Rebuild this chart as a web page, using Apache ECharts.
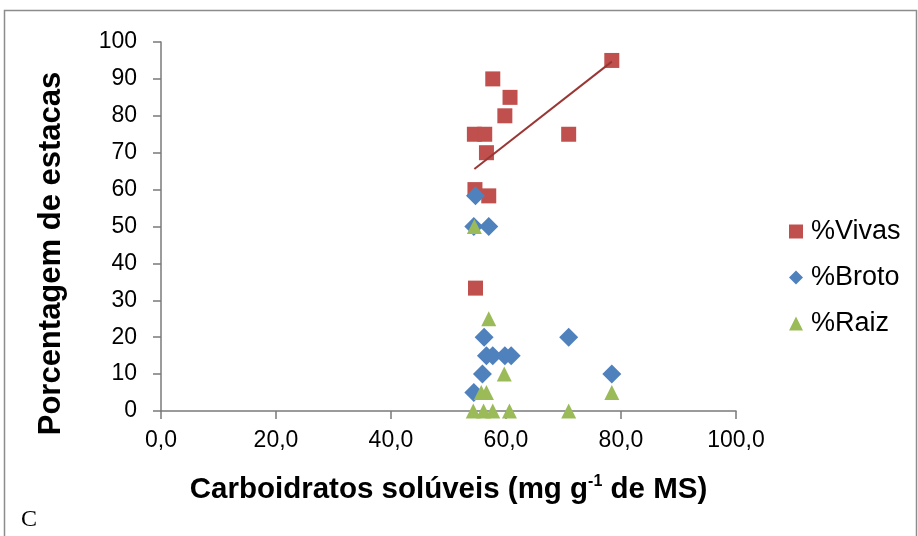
<!DOCTYPE html>
<html>
<head>
<meta charset="utf-8">
<script src="https://cdn.jsdelivr.net/npm/echarts@6/dist/echarts.min.js"></script>
<style>
html,body{margin:0;padding:0;background:#fff;}
#chart{width:918px;height:536px;}
</style>
</head>
<body>
<div id="chart"></div>
<script>
// Data
var vivasX = [78.4, 57.7, 60.7, 59.8, 54.5, 56.3, 70.9, 56.6, 54.6, 57.0, 54.7];
var vivasY = [95, 90, 85, 80, 75, 75, 75, 70, 60, 58.3, 33.3];
var brotoX = [54.7, 54.4, 57.0, 56.2, 70.9, 56.6, 57.7, 59.8, 60.9, 55.9, 78.4, 54.4];
var brotoY = [58.3, 50, 50, 20, 20, 15, 15, 15, 15, 10, 10, 5];
var raizX = [54.5, 57.0, 59.7, 55.7, 56.6, 78.4, 54.3, 56.1, 57.7, 60.6, 70.9];
var raizY = [50, 25, 10, 5, 5, 5, 0, 0, 0, 0, 0];
var seriesNames = ['%Vivas', '%Broto', '%Raiz'];
var xTicks = [0, 20, 40, 60, 80, 100];
var yTicks = [0, 10, 20, 30, 40, 50, 60, 70, 80, 90, 100];

function pairs(xs, ys) { return xs.map(function (x, i) { return [x, ys[i]]; }); }

// linear trend line (least squares) of %Vivas
function trend(xs, ys) {
  var n = xs.length, sx = 0, sy = 0;
  for (var i = 0; i < n; i++) { sx += xs[i]; sy += ys[i]; }
  var mx = sx / n, my = sy / n, num = 0, den = 0;
  for (i = 0; i < n; i++) { num += (xs[i] - mx) * (ys[i] - my); den += (xs[i] - mx) * (xs[i] - mx); }
  var b = num / den, a = my - b * mx;
  var x0 = Math.min.apply(null, xs), x1 = Math.max.apply(null, xs);
  return [[x0, a + b * x0], [x1, a + b * x1]];
}

var FONT = '"Liberation Sans", Arial, sans-serif';
var axisCol = '#7a7a7a';
var chart = echarts.init(document.getElementById('chart'), null, {renderer: 'canvas'});
chart.setOption({
  animation: false,
  backgroundColor: '#fff',
  textStyle: {fontFamily: FONT},
  grid: {left: 161, right: 182, top: 42, bottom: 125, containLabel: false},
  graphic: [
    {type: 'rect', shape: {x: 4.5, y: 10.5, width: 912, height: 540}, style: {fill: 'none', stroke: '#8c8c8c', lineWidth: 1.5}, silent: true, z: -10},
    {type: 'text', left: 21, top: 508, style: {text: 'C', fontFamily: '"Liberation Serif", "Times New Roman", serif', fontSize: 24, fill: '#000'}}
  ],
  legend: {
    orient: 'vertical', left: 784, top: 213, itemGap: 19,
    itemWidth: 14, itemHeight: 14,
    data: [
      {name: seriesNames[0], icon: 'rect'},
      {name: seriesNames[1], icon: 'diamond'},
      {name: seriesNames[2], icon: 'triangle'}
    ],
    textStyle: {fontFamily: FONT, fontSize: 27, color: '#000', padding: [0, 0, 0, 3]}
  },
  xAxis: {
    type: 'value', min: xTicks[0], max: xTicks[xTicks.length - 1], interval: 20,
    name: '{a|Carboidratos solúveis (mg g}{s|-1}{a| de MS)}',
    nameLocation: 'middle', nameGap: 63,
    nameTextStyle: {
      rich: {
        a: {fontFamily: FONT, fontSize: 29.5, fontWeight: 'bold', color: '#000'},
        s: {fontFamily: FONT, fontSize: 16, fontWeight: 'bold', color: '#000', verticalAlign: 'top', padding: [0, 0, 15, 0]}
      }
    },
    axisLine: {show: true, lineStyle: {color: axisCol, width: 1.5}},
    axisTick: {show: true, inside: false, length: 8, lineStyle: {color: axisCol, width: 1.5}},
    axisLabel: {fontFamily: FONT, fontSize: 23, color: '#000', margin: 18,
      formatter: function (v) { return v.toFixed(1).replace('.', ','); }},
    splitLine: {show: false}
  },
  yAxis: {
    type: 'value', min: yTicks[0], max: yTicks[yTicks.length - 1], interval: 10,
    name: 'Porcentagem de estacas',
    nameLocation: 'middle', nameGap: 94, nameRotate: 90,
    nameTextStyle: {fontFamily: FONT, fontSize: 31, fontWeight: 'bold', color: '#000', padding: [0, 54, 0, 0]},
    axisLine: {show: true, lineStyle: {color: axisCol, width: 1.5}},
    axisTick: {show: true, inside: false, length: 8, lineStyle: {color: axisCol, width: 1.5}},
    axisLabel: {fontFamily: FONT, fontSize: 23, color: '#000', margin: 24},
    splitLine: {show: false}
  },
  series: [
    {name: seriesNames[0], type: 'scatter', symbol: 'rect', symbolSize: 15,
     itemStyle: {color: '#C0504D', opacity: 1}, data: pairs(vivasX, vivasY), z: 2},
    {name: seriesNames[1], type: 'scatter', symbol: 'diamond', symbolSize: 19,
     itemStyle: {color: '#4F81BD', opacity: 1}, data: pairs(brotoX, brotoY), z: 3},
    {name: seriesNames[2], type: 'scatter', symbol: 'triangle', symbolSize: 15,
     itemStyle: {color: '#9BBB59', opacity: 1}, data: pairs(raizX, raizY), z: 4},
    {name: 'trend', type: 'line', data: trend(vivasX, vivasY), symbol: 'none',
     lineStyle: {color: '#9A3734', width: 2}, z: 5, silent: true}
  ]
});
</script>
</body>
</html>
